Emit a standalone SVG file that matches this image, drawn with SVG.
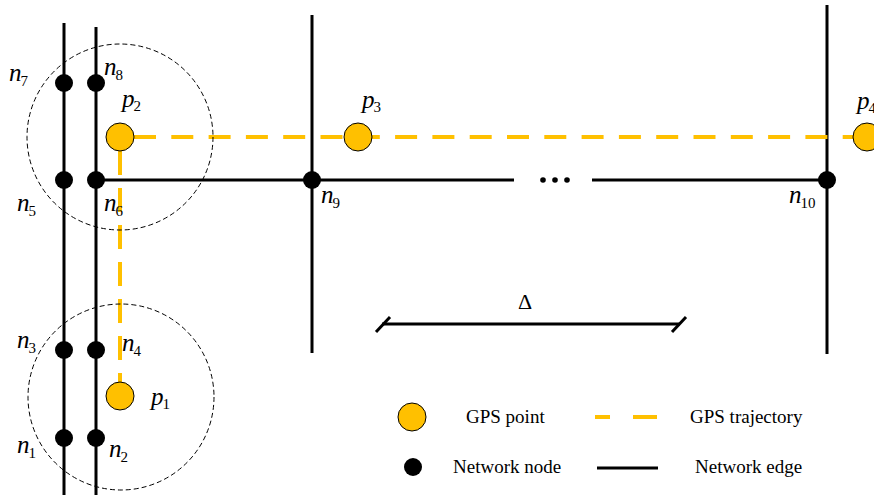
<svg xmlns="http://www.w3.org/2000/svg" width="874" height="497" viewBox="0 0 874 497">
<style>
.edge{stroke:#000;stroke-width:3;fill:none}
.traj{stroke:#FFC000;stroke-width:4;fill:none}
.node{fill:#000}
.gps{fill:#FFC000;stroke:#000;stroke-width:1}
.range{fill:none;stroke:#000;stroke-width:1;stroke-dasharray:5 3}
.lbl{font-family:"Liberation Serif",serif;font-style:italic;font-size:25px;fill:#000}
.sub{font-size:15px;font-style:normal}
.leg{font-family:"Liberation Serif",serif;font-size:19px;fill:#000}
</style>
<rect width="874" height="497" fill="#fff"/>
<g id="connectors">
<line class="edge" x1="64" y1="23" x2="64" y2="495"/>
<line class="edge" x1="96" y1="27" x2="96" y2="495"/>
<line class="edge" x1="312" y1="15" x2="312" y2="353"/>
<line class="edge" x1="827" y1="5" x2="827" y2="354"/>
<line class="edge" x1="96" y1="180" x2="514" y2="180"/>
<line class="edge" x1="592" y1="180" x2="827" y2="180"/>
<line class="traj" x1="134" y1="137" x2="866" y2="137" stroke-dasharray="22 15.3"/>
<line class="traj" x1="120" y1="151" x2="120" y2="383" stroke-dasharray="24 13"/>
</g>
<g id="ranges">
<circle class="range" cx="120" cy="137" r="93"/>
<circle class="range" cx="121" cy="397" r="93"/>
</g>
<g id="ellipsis">
<circle cx="543" cy="180" r="2.8"/>
<circle cx="555" cy="180" r="2.8"/>
<circle cx="567" cy="180" r="2.8"/>
</g>
<g id="delta">
<line class="edge" x1="382" y1="324" x2="680" y2="324"/>
<line class="edge" x1="376" y1="332" x2="390" y2="317"/>
<line class="edge" x1="672" y1="332" x2="686" y2="317"/>
<text x="525" y="309" text-anchor="middle" font-family="Liberation Serif, serif" font-size="22">Δ</text>
</g>
<g id="n1"><circle class="node" cx="64" cy="438" r="9"/><text class="lbl" x="17" y="453">n<tspan class="sub" dy="5" dx="-1">1</tspan></text></g>
<g id="n2"><circle class="node" cx="96" cy="438" r="9"/><text class="lbl" x="109" y="457">n<tspan class="sub" dy="5" dx="-1">2</tspan></text></g>
<g id="n3"><circle class="node" cx="64" cy="350" r="9"/><text class="lbl" x="17" y="348">n<tspan class="sub" dy="5" dx="-1">3</tspan></text></g>
<g id="n4"><circle class="node" cx="96" cy="350" r="9"/><text class="lbl" x="122" y="351">n<tspan class="sub" dy="5" dx="-1">4</tspan></text></g>
<g id="n5"><circle class="node" cx="64" cy="180" r="9"/><text class="lbl" x="17" y="211">n<tspan class="sub" dy="5" dx="-1">5</tspan></text></g>
<g id="n6"><circle class="node" cx="96" cy="180" r="9"/><text class="lbl" x="104" y="211">n<tspan class="sub" dy="5" dx="-1">6</tspan></text></g>
<g id="n7"><circle class="node" cx="64" cy="83" r="9"/><text class="lbl" x="9" y="81">n<tspan class="sub" dy="5" dx="-1">7</tspan></text></g>
<g id="n8"><circle class="node" cx="96" cy="83" r="9"/><text class="lbl" x="104" y="75">n<tspan class="sub" dy="5" dx="-1">8</tspan></text></g>
<g id="n9"><circle class="node" cx="312" cy="180" r="9"/><text class="lbl" x="321" y="203">n<tspan class="sub" dy="5" dx="-1">9</tspan></text></g>
<g id="n10"><circle class="node" cx="827" cy="180" r="9"/><text class="lbl" x="789" y="203">n<tspan class="sub" dy="5" dx="-1">10</tspan></text></g>
<g id="p1"><circle class="gps" cx="120" cy="396" r="14"/><text class="lbl" x="151" y="405">p<tspan class="sub" dy="4" dx="-1">1</tspan></text></g>
<g id="p2"><circle class="gps" cx="120" cy="137" r="14"/><text class="lbl" x="122" y="107">p<tspan class="sub" dy="4" dx="-1">2</tspan></text></g>
<g id="p3"><circle class="gps" cx="358" cy="137" r="14"/><text class="lbl" x="362" y="108">p<tspan class="sub" dy="4" dx="-1">3</tspan></text></g>
<g id="p4"><circle class="gps" cx="867" cy="137" r="14"/><text class="lbl" x="857" y="109">p<tspan class="sub" dy="4" dx="-1">4</tspan></text></g>
<g id="legend">
<circle class="gps" cx="412" cy="417" r="14"/>
<text class="leg" x="466" y="423">GPS point</text>
<line class="traj" x1="595" y1="417" x2="657" y2="417" stroke-dasharray="15 23 24 23"/>
<text class="leg" x="690" y="423">GPS trajectory</text>
<circle class="node" cx="413" cy="467" r="9"/>
<text class="leg" x="453" y="473">Network node</text>
<line class="edge" x1="597" y1="468" x2="658" y2="468"/>
<text class="leg" x="695" y="473">Network edge</text>
</g>
</svg>
